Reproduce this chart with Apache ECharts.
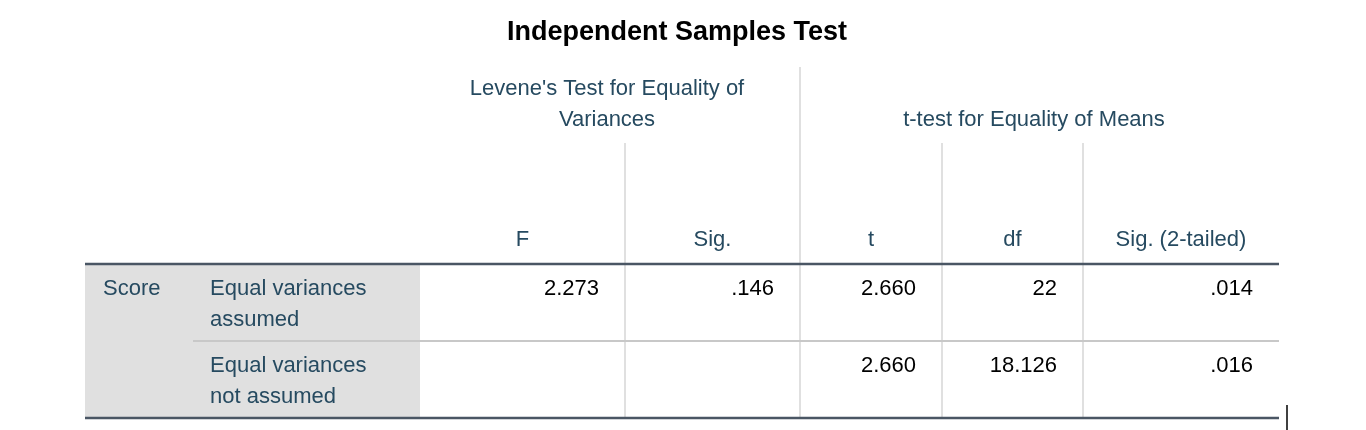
<!DOCTYPE html>
<html>
<head>
<meta charset="utf-8">
<script src="https://cdn.jsdelivr.net/npm/echarts@6/dist/echarts.min.js"></script>
<style>
  html, body { margin: 0; padding: 0; background: #fff; }
  #chart { width: 1366px; height: 430px; }
</style>
</head>
<body>
<div id="chart"></div>
<script>
// table content
const title = 'Independent Samples Test'
const groupHeaders = ["Levene's Test for Equality of\nVariances", 't-test for Equality of Means']
const columnHeaders = ['F', 'Sig.', 't', 'df', 'Sig. (2-tailed)']
const rowVariable = 'Score'
const rowLabels = ['Equal variances\nassumed', 'Equal variances\nnot assumed']
const rowAssumed = ['2.273', '.146', '2.660', '22', '.014']
const rowNotAssumed = ['', '', '2.660', '18.126', '.016']

const chart = echarts.init(document.getElementById('chart'))

const font = '"Liberation Sans", Arial, sans-serif'
const labelColor = '#264a60'
const lineColor = '#e0e0e0'
const tblLeft = 85, tblRight = 1279
const tblTop = 264, tblMid = 341, tblBottom = 418
const colEdges = [420, 625, 800, 942, 1083, 1279]
const rows = [rowAssumed, rowNotAssumed]
const rowY = [tblTop, tblMid]

const els = []

// title
els.push({ type: 'text', x: 677, y: 33, style: { text: title, font: 'bold 27px ' + font, fill: '#000', align: 'center', verticalAlign: 'middle' } })

// gray label area
els.push({ type: 'rect', shape: { x: tblLeft, y: tblTop, width: colEdges[0] - tblLeft, height: tblBottom - tblTop }, style: { fill: '#e0e0e0' } })

// vertical grid lines
els.push({ type: 'line', shape: { x1: 800, y1: 67, x2: 800, y2: tblBottom }, style: { stroke: lineColor, lineWidth: 2 } })
;[625, 942, 1083].forEach(x => {
  els.push({ type: 'line', shape: { x1: x, y1: 143, x2: x, y2: tblBottom }, style: { stroke: lineColor, lineWidth: 2 } })
})

// horizontal lines
els.push({ type: 'line', shape: { x1: 193, y1: tblMid, x2: tblRight, y2: tblMid }, style: { stroke: '#c8c8c8', lineWidth: 2 } })
els.push({ type: 'line', shape: { x1: tblLeft, y1: tblTop, x2: tblRight, y2: tblTop }, style: { stroke: '#4a5664', lineWidth: 2.5 } })
els.push({ type: 'line', shape: { x1: tblLeft, y1: tblBottom, x2: tblRight, y2: tblBottom }, style: { stroke: '#4a5664', lineWidth: 2.5 } })

// group headers
els.push({ type: 'text', x: 607, y: 104, style: { text: groupHeaders[0], font: '22px ' + font, fill: labelColor, align: 'center', verticalAlign: 'middle', lineHeight: 31 } })
els.push({ type: 'text', x: 1034, y: 120, style: { text: groupHeaders[1], font: '22px ' + font, fill: labelColor, align: 'center', verticalAlign: 'middle' } })

// column headers
columnHeaders.forEach((h, i) => {
  const cx = (colEdges[i] + colEdges[i + 1]) / 2
  els.push({ type: 'text', x: cx, y: 240, style: { text: h, font: '22px ' + font, fill: labelColor, align: 'center', verticalAlign: 'middle' } })
})

// row labels
els.push({ type: 'text', x: 103, y: 289, style: { text: rowVariable, font: '22px ' + font, fill: labelColor, verticalAlign: 'middle' } })
rowLabels.forEach((lab, r) => {
  els.push({ type: 'text', x: 210, y: rowY[r] + 40, style: { text: lab, font: '22px ' + font, fill: labelColor, verticalAlign: 'middle', lineHeight: 31 } })
})

// values, right aligned in cells
rows.forEach((vals, r) => {
  vals.forEach((v, i) => {
    if (!v) return
    els.push({ type: 'text', x: colEdges[i + 1] - 26, y: rowY[r] + 25, style: { text: v, font: '22px ' + font, fill: '#000', align: 'right', verticalAlign: 'middle' } })
  })
})

// text cursor
els.push({ type: 'line', shape: { x1: 1287, y1: 405, x2: 1287, y2: 430 }, style: { stroke: '#000', lineWidth: 1.5 } })

chart.setOption({ animation: false, graphic: { elements: els } })
</script>
</body>
</html>
